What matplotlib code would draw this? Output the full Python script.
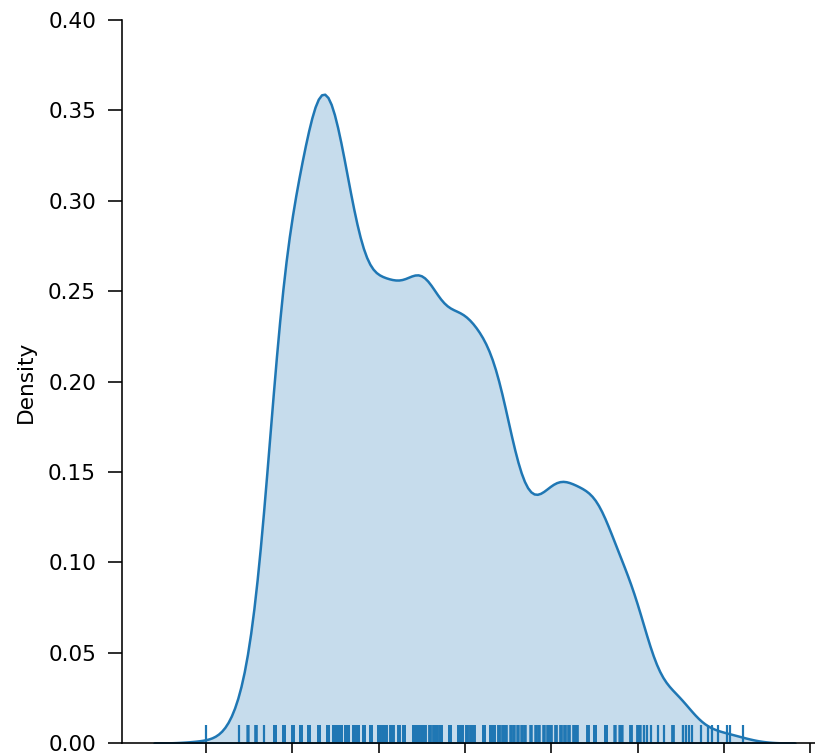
"""
Densidad KDE con rug de la muestra.

Los valores se guardan como (valor, repeticiones) y se expanden a la
muestra completa antes de estimar la densidad con seaborn.

Salida: out.png
"""

import matplotlib
matplotlib.use("Agg")
import matplotlib.pyplot as plt
from matplotlib.ticker import MultipleLocator
import numpy as np
import seaborn as sns

# ─── Datos ────────────────────────────────────────────────────────────────────
valores = [
    0.0, 0.38, 0.49, 0.58, 0.67, 0.8, 0.9, 1.01, 1.1, 1.19, 1.31, 1.41, 1.48,
    1.53, 1.56, 1.62, 1.65, 1.72, 1.76, 1.83, 1.91, 2.0, 2.05, 2.09, 2.14,
    2.17, 2.23, 2.29, 2.41, 2.45, 2.5, 2.54, 2.59, 2.64, 2.68, 2.72, 2.83,
    2.93, 2.97, 3.02, 3.07, 3.1, 3.22, 3.3, 3.34, 3.39, 3.44, 3.48, 3.53,
    3.57, 3.61, 3.66, 3.7, 3.76, 3.82, 3.86, 3.91, 3.96, 4.0, 4.05, 4.11,
    4.16, 4.21, 4.26, 4.3, 4.42, 4.51, 4.63, 4.74, 4.79, 4.82, 4.92, 5.0,
    5.03, 5.07, 5.11, 5.15, 5.23, 5.3, 5.41, 5.53, 5.56, 5.59, 5.63, 5.73,
    5.81, 5.86, 5.93, 6.04, 6.07, 6.22,
]
repeticiones = [
    1, 1, 9, 14, 1, 40, 124, 29, 32, 87, 111, 54, 37, 33, 32, 31, 31, 29, 30,
    33, 38, 36, 30, 26, 23, 23, 26, 34, 43, 37, 29, 23, 20, 20, 24, 30, 46,
    36, 29, 25, 24, 25, 36, 35, 30, 22, 17, 14, 12, 12, 12, 12, 12, 12, 12,
    12, 13, 14, 15, 16, 17, 17, 16, 15, 15, 24, 43, 32, 10, 8, 8, 20, 19, 10,
    2, 1, 1, 1, 1, 17, 2, 1, 1, 1, 1, 1, 1, 1, 1, 1, 1,
]

DPI = 144
FONT_SIZE = 10.8


def main() -> None:
    muestra = np.repeat(valores, repeticiones)

    fig = plt.figure(figsize=(815 / DPI, 753 / DPI), dpi=DPI)
    # el eje x continúa por la derecha y por debajo, fuera del lienzo
    ax = fig.add_axes([122 / 815, 10 / 753, 705 / 815, 723 / 753])

    sns.kdeplot(x=muestra, bw_adjust=0.74, fill=True, linewidth=1.25, ax=ax)
    sns.rugplot(x=muestra, height=0.025, linewidth=1.1, ax=ax)

    ax.set_ylim(0, 0.4)
    ax.xaxis.set_major_locator(MultipleLocator(1))
    ax.tick_params(axis="x", labelbottom=False, length=7)
    ax.tick_params(axis="y", labelsize=FONT_SIZE, length=7, pad=6)
    ax.set_ylabel("Density", fontsize=FONT_SIZE, labelpad=6)
    ax.set_xlabel("")
    sns.despine(ax=ax)

    fig.savefig("out.png", dpi=DPI)
    plt.close(fig)


if __name__ == "__main__":
    main()
